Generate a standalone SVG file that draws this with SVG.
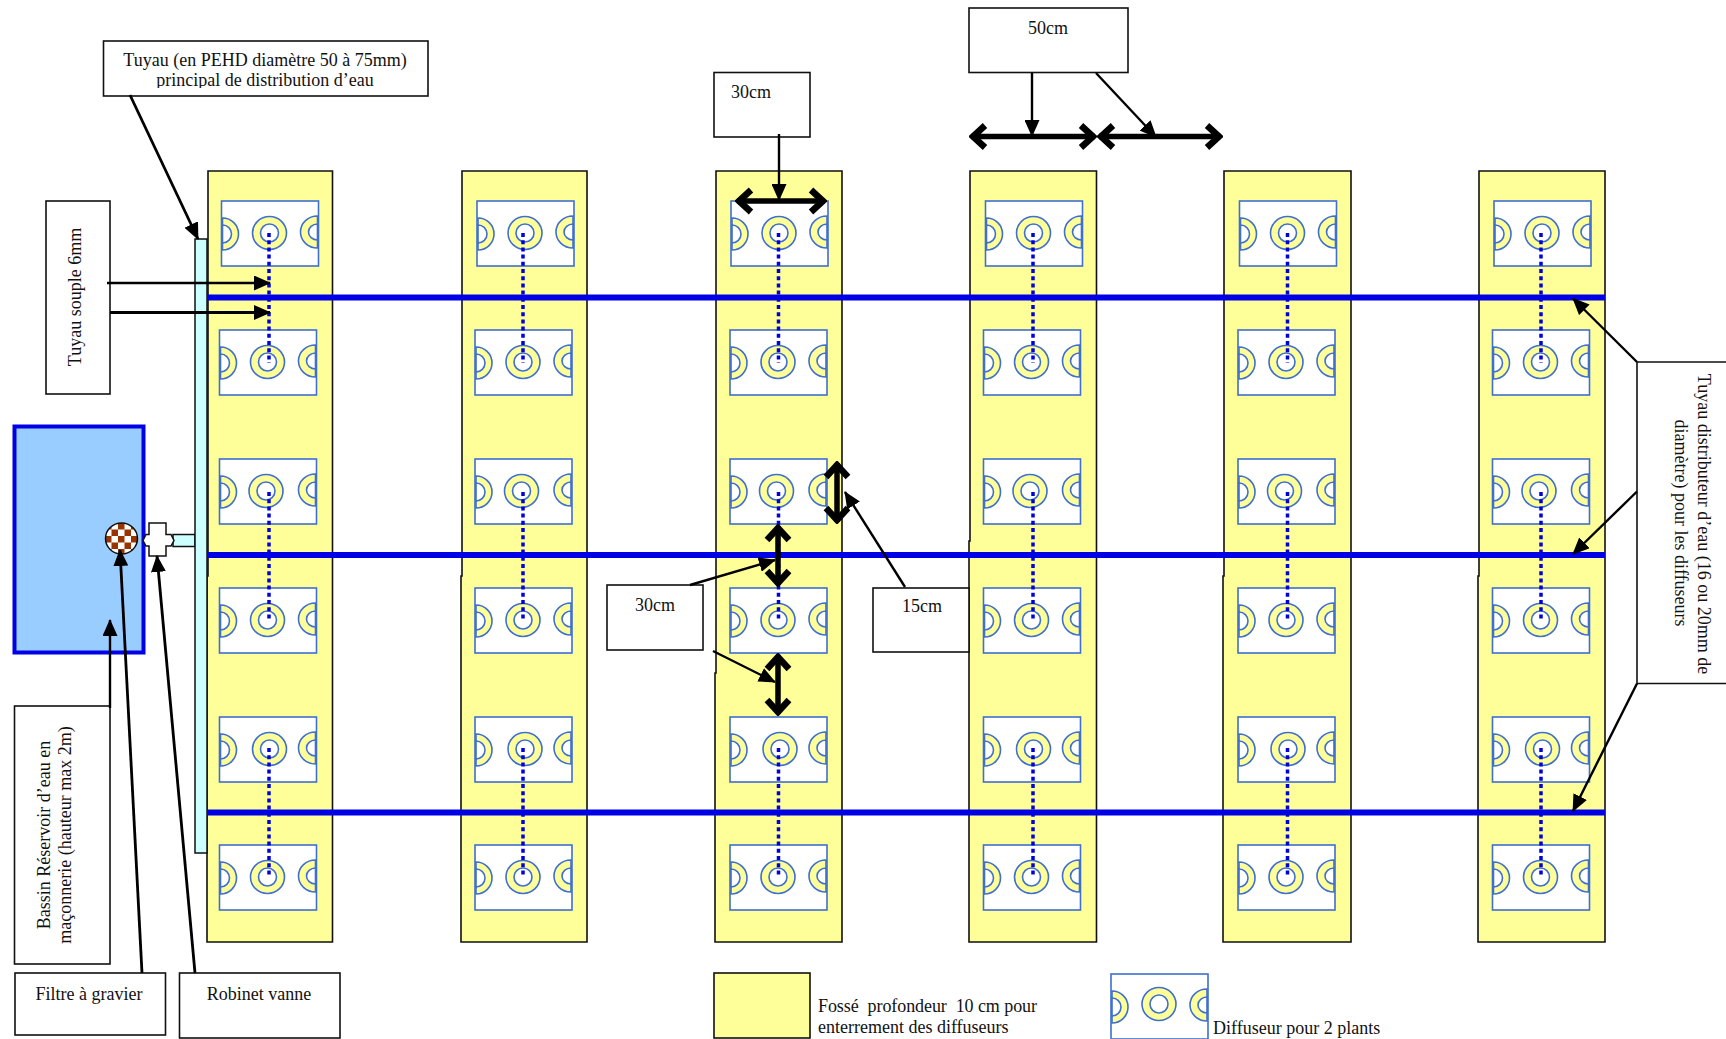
<svg xmlns="http://www.w3.org/2000/svg" width="1726" height="1039" viewBox="0 0 1726 1039">
<style>
text{font-family:"Liberation Serif","Times New Roman",serif;font-size:18px;fill:#111}
.lbl{fill:#fff;stroke:#111;stroke-width:1.6}
.col{fill:#ffff99;stroke:#111;stroke-width:1.6}
.dbox{fill:#fff;stroke:#3f6fcf;stroke-width:1.6}
.rg{fill:#ffff99;stroke:#3f6fcf;stroke-width:1.6}
.rw{fill:#fff;stroke:#3f6fcf;stroke-width:1.6}
.pipe{stroke:#0000e6;stroke-width:6;fill:none}
.dot{stroke:#0000d8;stroke-width:3.5;stroke-dasharray:4 3.2;fill:none}
.a{stroke:#000;stroke-width:2.4;fill:none;marker-end:url(#tri)}
.d{stroke:#000;stroke-width:5.5;fill:none;marker-start:url(#chev);marker-end:url(#chev)}
</style>
<defs>
<marker id="tri" viewBox="0 0 17 15" refX="16" refY="7.5" markerWidth="17" markerHeight="15" markerUnits="userSpaceOnUse" orient="auto"><path d="M0 0L17 7.500L0 15Z" fill="#000"/></marker>
<marker id="chev" viewBox="0 0 20 28" refX="18" refY="14" markerWidth="20" markerHeight="28" markerUnits="userSpaceOnUse" orient="auto-start-reverse"><path d="M4 3L16 14L4 25" fill="none" stroke="#000" stroke-width="6.500"/></marker>
<pattern id="chk" x="105" y="523" width="13" height="13" patternUnits="userSpaceOnUse"><rect width="13" height="13" fill="#fff"/><rect width="6.5" height="6.5" fill="#993300"/><rect x="6.5" y="6.5" width="6.5" height="6.5" fill="#993300"/></pattern>
<clipPath id="clipL2"><rect x="103" y="70" width="326" height="18"/></clipPath>
<g id="bx"><rect class="dbox" width="97" height="65"/>
<path class="rg" d="M1 17A16 16 0 0 1 1 49Z"/><path class="rw" d="M1 24A9 9 0 0 1 1 42Z"/>
<path class="rg" d="M96 15A17 16 0 0 0 96 47Z"/><path class="rw" d="M96 23A9 8 0 0 0 96 39Z"/></g>
<g id="ring"><ellipse class="rg" cx="48" cy="32" rx="17" ry="16.5"/><circle class="rw" cx="48" cy="32" r="9"/></g>
</defs>
<rect width="1726" height="1039" fill="#fff"/>

<g id="fosse-1"><path class="col" d="M208 171H332.500V942H207V576H208Z"/></g>
<g id="fosse-2"><path class="col" d="M462 171H587V942H461V576H462Z"/></g>
<g id="fosse-3"><path class="col" d="M716 171H842V942H715V673H716Z"/></g>
<g id="fosse-4"><path class="col" d="M970 171H1096.500V942H969V541H970Z"/></g>
<g id="fosse-5"><path class="col" d="M1224 171H1351V942H1223V576H1224Z"/></g>
<g id="fosse-6"><path class="col" d="M1479 171H1605V942H1478V576H1479Z"/></g>

<g id="diffuseurs-c1">
<use href="#bx" x="221.500" y="201"/><use href="#ring" x="221.500" y="201"/>
<use href="#bx" x="219.500" y="330"/><use href="#ring" x="219.500" y="330"/>
<use href="#bx" x="219.500" y="459"/><use href="#ring" x="218" y="459"/>
<use href="#bx" x="219.500" y="588"/><use href="#ring" x="219.500" y="588"/>
<use href="#bx" x="219.500" y="717"/><use href="#ring" x="221.500" y="717"/>
<use href="#bx" x="219.500" y="845"/><use href="#ring" x="219.500" y="845"/>
</g>
<g id="diffuseurs-c2">
<use href="#bx" x="477" y="201"/><use href="#ring" x="477" y="201"/>
<use href="#bx" x="475" y="330"/><use href="#ring" x="475" y="330"/>
<use href="#bx" x="475" y="459"/><use href="#ring" x="473.500" y="459"/>
<use href="#bx" x="475" y="588"/><use href="#ring" x="475" y="588"/>
<use href="#bx" x="475" y="717"/><use href="#ring" x="477" y="717"/>
<use href="#bx" x="475" y="845"/><use href="#ring" x="475" y="845"/>
</g>
<g id="diffuseurs-c3">
<use href="#bx" x="731" y="201"/><use href="#ring" x="731" y="201"/>
<use href="#bx" x="730" y="330"/><use href="#ring" x="730" y="330"/>
<use href="#bx" x="730" y="459"/><use href="#ring" x="728.500" y="459"/>
<use href="#bx" x="730" y="588"/><use href="#ring" x="730" y="588"/>
<use href="#bx" x="730" y="717"/><use href="#ring" x="732" y="717"/>
<use href="#bx" x="730" y="845"/><use href="#ring" x="730" y="845"/>
</g>
<g id="diffuseurs-c4">
<use href="#bx" x="985.500" y="201"/><use href="#ring" x="985.500" y="201"/>
<use href="#bx" x="983.500" y="330"/><use href="#ring" x="983.500" y="330"/>
<use href="#bx" x="983.500" y="459"/><use href="#ring" x="982" y="459"/>
<use href="#bx" x="983.500" y="588"/><use href="#ring" x="983.500" y="588"/>
<use href="#bx" x="983.500" y="717"/><use href="#ring" x="985.500" y="717"/>
<use href="#bx" x="983.500" y="845"/><use href="#ring" x="983.500" y="845"/>
</g>
<g id="diffuseurs-c5">
<use href="#bx" x="1239.500" y="201"/><use href="#ring" x="1239.500" y="201"/>
<use href="#bx" x="1238" y="330"/><use href="#ring" x="1238" y="330"/>
<use href="#bx" x="1238" y="459"/><use href="#ring" x="1236.500" y="459"/>
<use href="#bx" x="1238" y="588"/><use href="#ring" x="1238" y="588"/>
<use href="#bx" x="1238" y="717"/><use href="#ring" x="1240" y="717"/>
<use href="#bx" x="1238" y="845"/><use href="#ring" x="1238" y="845"/>
</g>
<g id="diffuseurs-c6">
<use href="#bx" x="1494" y="201"/><use href="#ring" x="1494" y="201"/>
<use href="#bx" x="1492.500" y="330"/><use href="#ring" x="1492.500" y="330"/>
<use href="#bx" x="1492.500" y="459"/><use href="#ring" x="1491" y="459"/>
<use href="#bx" x="1492.500" y="588"/><use href="#ring" x="1492.500" y="588"/>
<use href="#bx" x="1492.500" y="717"/><use href="#ring" x="1494.500" y="717"/>
<use href="#bx" x="1492.500" y="845"/><use href="#ring" x="1492.500" y="845"/>
</g>

<g id="tuyau-principal">
<rect x="173" y="534.500" width="22" height="12" fill="#ccffff" stroke="#111" stroke-width="1.500"/>
<rect x="195" y="239" width="12" height="614" fill="#ccffff" stroke="#111" stroke-width="1.500"/>
</g>

<g id="bassin"><rect x="14.500" y="426.500" width="129" height="226" fill="#99ccff" stroke="#0000e6" stroke-width="4"/></g>
<g id="filtre"><ellipse cx="121.500" cy="538.500" rx="16" ry="15.500" fill="url(#chk)" stroke="#111" stroke-width="1.500"/></g>
<g id="robinet"><path d="M149 523H166V534.500H171L174 540.500L171 546H166V556H149V546H146L143 540.500L146 534.500H149Z" fill="#fff" stroke="#111" stroke-width="1.500"/></g>

<g id="label-tuyau-principal"><rect class="lbl" x="103.500" y="41" width="324.500" height="55"/>
<text x="265" y="66" text-anchor="middle">Tuyau (en PEHD diamètre 50 à 75mm)</text>
<text x="265" y="86" text-anchor="middle" clip-path="url(#clipL2)">principal de distribution d’eau</text></g>
<g id="label-tuyau-souple"><rect class="lbl" x="46" y="201" width="64" height="193"/>
<text transform="translate(81 297) rotate(-90)" text-anchor="middle">Tuyau souple 6mm</text></g>
<g id="label-bassin"><rect class="lbl" x="14.500" y="706" width="95.500" height="258"/>
<text transform="translate(49.500 835) rotate(-90)" text-anchor="middle">Bassin Réservoir d’eau en</text>
<text transform="translate(70.500 835) rotate(-90)" text-anchor="middle">maçonnerie (hauteur max 2m)</text></g>
<g id="label-filtre"><rect class="lbl" x="15" y="973" width="150.500" height="62"/>
<text x="89" y="999.500" text-anchor="middle">Filtre à gravier</text></g>
<g id="label-robinet"><rect class="lbl" x="179.500" y="973" width="160.500" height="65"/>
<text x="259" y="999.500" text-anchor="middle">Robinet vanne</text></g>
<g id="label-30cm-haut"><rect class="lbl" x="714" y="72.500" width="96" height="64.500"/>
<text x="751" y="98" text-anchor="middle">30cm</text></g>
<g id="label-50cm"><rect class="lbl" x="969" y="8" width="159" height="64.500"/>
<text x="1048" y="33.500" text-anchor="middle">50cm</text></g>
<g id="label-30cm"><rect class="lbl" x="607" y="585" width="96" height="65"/>
<text x="655" y="611" text-anchor="middle">30cm</text></g>
<g id="label-15cm"><rect class="lbl" x="873" y="588" width="96" height="64"/>
<text x="922" y="612" text-anchor="middle">15cm</text></g>
<g id="label-tuyau-distributeur"><path d="M1726 362H1637V683.500H1726" class="lbl"/>
<text transform="translate(1698 524) rotate(90)" text-anchor="middle">Tuyau distributeur d’eau (16 ou 20mm de</text>
<text transform="translate(1675 523) rotate(90)" text-anchor="middle">diamètre) pour les diffuseurs</text></g>
<g id="legende-fosse"><rect x="714" y="973" width="96" height="65" fill="#ffff99" stroke="#111" stroke-width="1.600"/>
<text x="818" y="1012" xml:space="preserve" textLength="219">Fossé  profondeur  10 cm pour</text>
<text x="818" y="1033">enterrement des diffuseurs</text></g>
<g id="legende-diffuseur"><use href="#bx" x="1111" y="974"/><use href="#ring" x="1111" y="972"/>
<text x="1213" y="1034">Diffuseur pour 2 plants</text></g>

<g id="connectors">
<g id="conduites">
<path class="pipe" d="M207 297.500H1605M207 555H1605M207 812.500H1605"/>
<path class="dot" d="M269 233V363M523 233V363M778.500 233V363M1033 233V363M1287.500 233V363M1541 233V363"/>
<path class="dot" d="M269 492V620M523 492V620M778.500 492V620M1033 492V620M1287.500 492V620M1541 492V620"/>
<path class="dot" d="M269 748V877M523 748V877M778.500 748V877M1033 748V877M1287.500 748V877M1541 748V877"/>
</g>
<path class="a" d="M130 95L198 239" style="stroke-width:2.800"/>
<path class="a" d="M107 283H270"/>
<path class="a" d="M110 312.500H270" style="stroke-width:3"/>
<path class="a" d="M110 708V620"/>
<path class="a" d="M142 973L120 550" style="stroke-width:2.800"/>
<path class="a" d="M195 973L157 556" style="stroke-width:2.800"/>
<path class="a" d="M779 134V200"/>
<path class="a" d="M1032 73V136"/>
<path class="a" d="M1096 73L1156 137"/>
<path class="d" d="M737 201H825"/>
<path class="d" d="M971 136.500H1095"/>
<path class="d" d="M1099 136.500H1221"/>
<path class="d" d="M837 463V522"/>
<path class="d" d="M778 526V585"/>
<path class="d" d="M778 655V714"/>
<path class="a" d="M690 585L775 560"/>
<path class="a" d="M713 651L775 682"/>
<path class="a" d="M905 587L845 492"/>
<path class="a" d="M1637 362L1573 298.500"/>
<path class="a" d="M1637 491.500L1573 554"/>
<path class="a" d="M1637 683.500L1573 811"/>
</g>
</svg>
